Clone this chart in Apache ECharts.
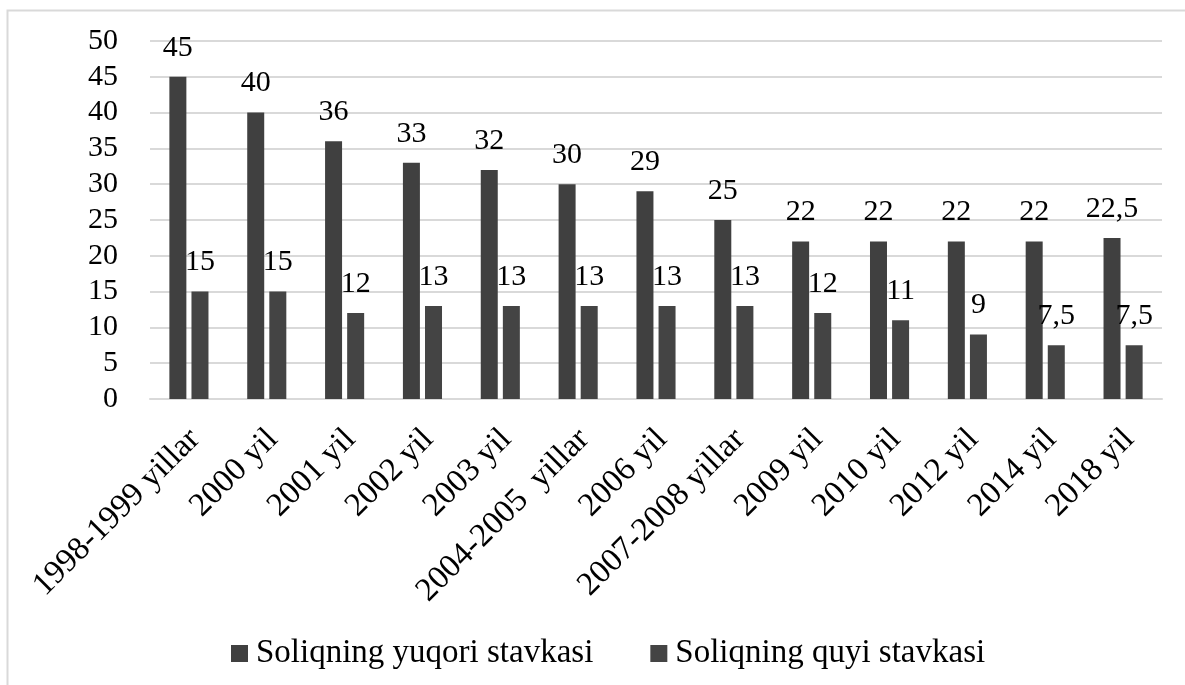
<!DOCTYPE html>
<html>
<head>
<meta charset="utf-8">
<script src="https://cdn.jsdelivr.net/npm/echarts@6/dist/echarts.min.js"></script>
<style>
    html, body { margin: 0; padding: 0; background: #fff; }
    #chart { width: 1185px; height: 685px; }
</style>
</head>
<body>
<div id="chart"></div>
<script>
var categories = ['1998-1999 yillar', '2000 yil', '2001 yil', '2002 yil', '2003 yil', '2004-2005  yillar',
    '2006 yil', '2007-2008 yillar', '2009 yil', '2010 yil', '2012 yil', '2014 yil', '2018 yil'];
var upperRate = [45, 40, 36, 33, 32, 30, 29, 25, 22, 22, 22, 22, 22.5];
var lowerRate = [15, 15, 12, 13, 13, 13, 13, 13, 12, 11, 9, 7.5, 7.5];
var seriesNames = ['Soliqning yuqori stavkasi', 'Soliqning quyi stavkasi'];

var font = "'Liberation Serif', 'Times New Roman', serif";

var labelFmt = function (p) {
    return String(p.value).replace('.', ',');
};

var myChart = echarts.init(document.getElementById('chart'));
var option = {
    backgroundColor: '#fff',
    animation: false,
    textStyle: { fontFamily: font },
    graphic: [{
        type: 'rect',
        shape: { x: 7.5, y: 10.5, width: 1300, height: 900 },
        style: { fill: 'none', stroke: '#d9d9d9', lineWidth: 2 },
        silent: true
    }],
    grid: { left: 150, right: 23, top: 41, bottom: 286, containLabel: false },
    legend: {
        data: seriesNames,
        left: 226,
        top: 632,
        icon: 'rect',
        itemWidth: 17,
        itemHeight: 17,
        itemGap: 57,
        textStyle: { fontFamily: font, fontSize: 33, color: '#000', padding: [0, 0, 0, 3] }
    },
    xAxis: {
        type: 'category',
        data: categories,
        axisLine: { lineStyle: { color: '#d9d9d9', width: 2 } },
        axisTick: { show: false },
        axisLabel: {
            interval: 0,
            rotate: 45,
            margin: 18,
            align: 'right',
            verticalAlign: 'top',
            padding: [0, 8, 0, 0],
            fontFamily: font,
            fontSize: 33,
            color: '#000'
        }
    },
    yAxis: {
        type: 'value',
        min: 0,
        max: 50,
        interval: 5,
        axisLine: { show: false },
        axisTick: { show: false },
        splitLine: { lineStyle: { color: '#d9d9d9', width: 2 } },
        axisLabel: { margin: 32, fontFamily: font, fontSize: 30, color: '#000' }
    },
    series: [{
        name: seriesNames[0],
        type: 'bar',
        data: upperRate,
        barWidth: 17,
        barGap: '30%',
        itemStyle: { color: '#404040' },
        label: { show: true, position: 'top', distance: 14, fontFamily: font, fontSize: 30, color: '#000', formatter: labelFmt }
    }, {
        name: seriesNames[1],
        type: 'bar',
        data: lowerRate,
        barWidth: 17,
        itemStyle: { color: '#444444' },
        label: { show: true, position: 'top', distance: 14, fontFamily: font, fontSize: 30, color: '#000', formatter: labelFmt }
    }]
};
myChart.setOption(option);
</script>
</body>
</html>
